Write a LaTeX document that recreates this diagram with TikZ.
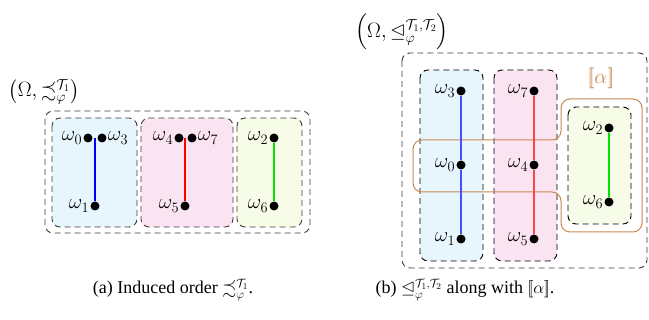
\documentclass[tikz,border=0pt]{standalone}
\usepackage{amsmath,amssymb}
\usepackage{fontspec}
\setmainfont{Liberation Serif}
\newcommand{\lbb}{\mathopen{[\mkern-3mu[}}
\newcommand{\rbb}{\mathclose{]\mkern-3mu]}}
\definecolor{fblue}{RGB}{230,246,252}
\definecolor{fpink}{RGB}{251,228,242}
\definecolor{fgreen}{RGB}{247,252,232}
\definecolor{brownc}{RGB}{200,136,80}
\definecolor{dgray}{RGB}{60,60,60}
\definecolor{lblue}{RGB}{70,80,255}
\definecolor{lred}{RGB}{255,70,70}
\definecolor{vgreen}{RGB}{0,230,0}
\begin{document}
\begin{tikzpicture}[x=1pt,y=-1pt,
  grp/.style={draw=dgray, dash pattern=on 6pt off 4pt, rounded corners=8pt, line width=0.9pt},
  grpb/.style={draw=black, dash pattern=on 6pt off 4pt, rounded corners=8pt, line width=0.9pt},
  dot/.style={circle, fill=black, inner sep=0pt, minimum size=9pt},
  lab/.style={font=\fontsize{22}{26}\selectfont, inner sep=1pt},
  ttl/.style={font=\fontsize{20}{24}\selectfont, inner sep=1pt},
  conn/.style={line width=1.1pt},
  captext/.style={font=\fontsize{18}{22}\selectfont}]
\useasboundingbox (0,0) rectangle (649,320);
% ---- left diagram
\draw[grp] (45,111) rectangle (310,233);
\draw[grp, fill=fblue] (52,118) rectangle (137,227);
\draw[grp, fill=fpink] (141,118) rectangle (233,227);
\draw[grp, fill=fgreen] (237,118) rectangle (302,227);
\node[ttl] (lt) at (44,92) {$\bigl(\Omega,\precsim_\varphi^{\mathcal{T}_1}\bigr)$};
\node[dot, label={[lab]left:$\omega_0$}] (a0) at (88,138) {};
\node[dot, label={[lab]right:$\omega_3$}] (a3) at (102,138) {};
\coordinate (a03) at (95,138);
\node[dot, label={[lab]left:$\omega_1$}] (a1) at (95,206) {};
\node[dot, label={[lab]left:$\omega_4$}] (a4) at (179,138) {};
\node[dot, label={[lab]right:$\omega_7$}] (a7) at (192,138) {};
\coordinate (a47) at (185,138);
\node[dot, label={[lab]left:$\omega_5$}] (a5) at (185,206) {};
\node[dot, label={[lab]left:$\omega_2$}] (a2) at (274,138) {};
\node[dot, label={[lab]left:$\omega_6$}] (a6) at (274,206) {};
\draw[blue, conn] (a03) -- (a1);
\draw[red, conn] (a47) -- (a5);
\draw[vgreen, conn] (a2) -- (a6);
% ---- right diagram
\draw[grp] (402,53) rectangle (647,268);
\draw[grpb, fill=fblue] (420,70) rectangle (483,261);
\draw[grpb, fill=fpink] (494,70) rectangle (557,261);
\draw[grpb, fill=fgreen] (568,107) rectangle (631,224);
\draw[brownc, rounded corners=9pt, line width=1pt] (561,99) -- (642,99) -- (642,232) -- (561,232) -- (561,192) -- (413,192) -- (413,140) -- (561,140) -- cycle;
\node[lab, text=brownc] (al) at (601,78) {$\lbb\alpha\rbb$};
\node[ttl] (rt) at (402,32) {$\Bigl(\Omega,\trianglelefteq_\varphi^{\mathcal{T}_1,\mathcal{T}_2}\Bigr)$};
\node[dot, label={[lab]left:$\omega_3$}] (b3) at (461,91) {};
\node[dot, label={[lab]left:$\omega_0$}] (b0) at (461,165) {};
\node[dot, label={[lab]left:$\omega_1$}] (b1) at (461,239) {};
\node[dot, label={[lab]left:$\omega_7$}] (b7) at (534,91) {};
\node[dot, label={[lab]left:$\omega_4$}] (b4) at (534,165) {};
\node[dot, label={[lab]left:$\omega_5$}] (b5) at (534,239) {};
\node[dot, label={[lab]left:$\omega_2$}] (b2) at (609,128) {};
\node[dot, label={[lab]left:$\omega_6$}] (b6) at (609,202) {};
\draw[lblue, conn] (b3) -- (b0);
\draw[lblue, conn] (b0) -- (b1);
\draw[lred, conn] (b7) -- (b4);
\draw[lred, conn] (b4) -- (b5);
\draw[vgreen, conn] (b2) -- (b6);
% ---- captions
\node[captext] (ca) at (173,290) {(a) Induced order $\precsim_\varphi^{\mathcal{T}_1}$.};
\node[captext] (cb) at (465,290) {(b) $\trianglelefteq_\varphi^{\mathcal{T}_1,\mathcal{T}_2}$ along with $\lbb\alpha\rbb$.};
\end{tikzpicture}
\end{document}
